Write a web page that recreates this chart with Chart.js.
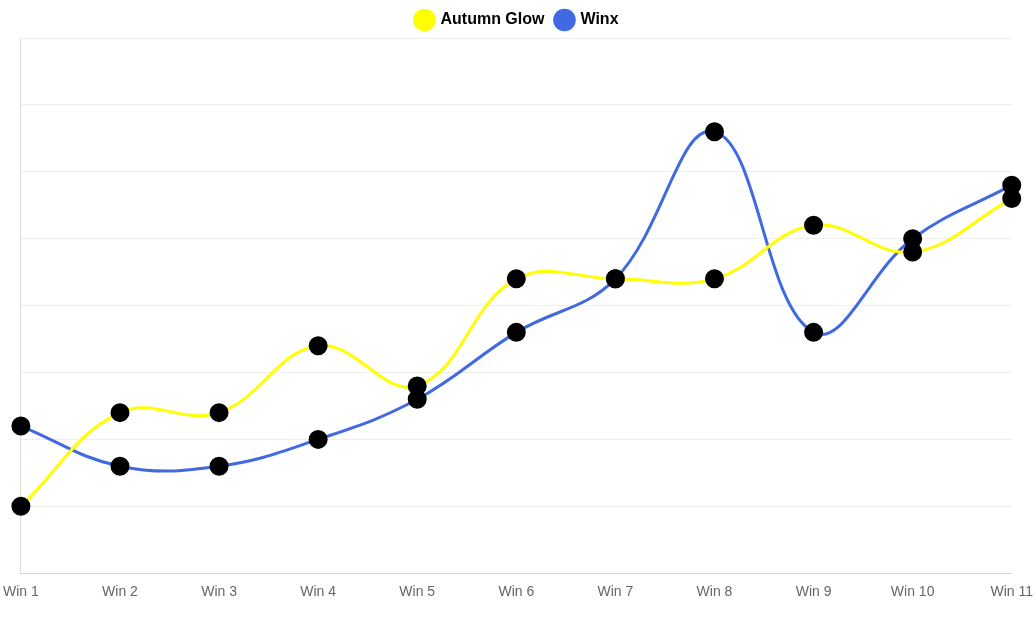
<!DOCTYPE html>
<html>
<head>
<meta charset="utf-8">
<script src="https://cdn.jsdelivr.net/npm/chart.js@4"></script>
<style>
  html, body { margin: 0; padding: 0; background: #fff; overflow: hidden; }
  #wrap { width: 1036px; height: 621px; }
</style>
</head>
<body>
<div id="wrap"><canvas id="graphic"></canvas></div>
<script>
const labels = ["Win 1", "Win 2", "Win 3", "Win 4", "Win 5", "Win 6", "Win 7", "Win 8", "Win 9", "Win 10", "Win 11"];
const autumnGlow = [1, 2.4, 2.4, 3.4, 2.8, 4.4, 4.4, 4.4, 5.2, 4.8, 5.6];
const winx = [2.2, 1.6, 1.6, 2.0, 2.6, 3.6, 4.4, 6.6, 3.6, 5.0, 5.8];

let graphic = document.getElementById("graphic").getContext('2d');

new Chart(graphic, {
  type: "line",
  data: {
    labels: labels,
    datasets: [{
      label: "Autumn Glow",
      data: autumnGlow,
      borderColor: "#ffff00",
      backgroundColor: "#ffff00",
      borderWidth: 3,
      tension: 0.4,
      pointRadius: 8,
      pointHoverRadius: 8,
      pointBackgroundColor: "#000",
      pointBorderColor: "#000"
    }, {
      label: "Winx",
      data: winx,
      borderColor: "#4169e1",
      backgroundColor: "#4169e1",
      borderWidth: 3,
      tension: 0.4,
      pointRadius: 8,
      pointHoverRadius: 8,
      pointBackgroundColor: "#000",
      pointBorderColor: "#000"
    }]
  },
  options: {
    responsive: true,
    maintainAspectRatio: false,
    animation: false,
    layout: { padding: { left: -20, right: -19, top: 0, bottom: 17 } },
    plugins: {
      legend: {
        position: "top",
        labels: {
          usePointStyle: true,
          pointStyle: "circle",
          padding: 12,
          boxWidth: 26,
          color: "#000",
          font: { size: 16, weight: "bold", family: "Arial, Liberation Sans, sans-serif" },
          generateLabels: function (chart) {
            return chart.data.datasets.map(function (ds, i) {
              return { text: ds.label, fillStyle: ds.borderColor, strokeStyle: ds.borderColor, pointStyle: "circle", datasetIndex: i, lineWidth: 0 };
            });
          }
        }
      },
      tooltip: { enabled: false }
    },
    scales: {
      x: {
        offset: false,
        grid: { display: false },
        ticks: { color: "#666", font: { size: 14 } }
      },
      y: {
        min: 0,
        max: 8,
        ticks: { display: false, stepSize: 1 },
        grid: { color: "#eee", drawTicks: false },
        border: { display: true, color: "#ddd" }
      }
    }
  }
});
</script>
</body>
</html>
